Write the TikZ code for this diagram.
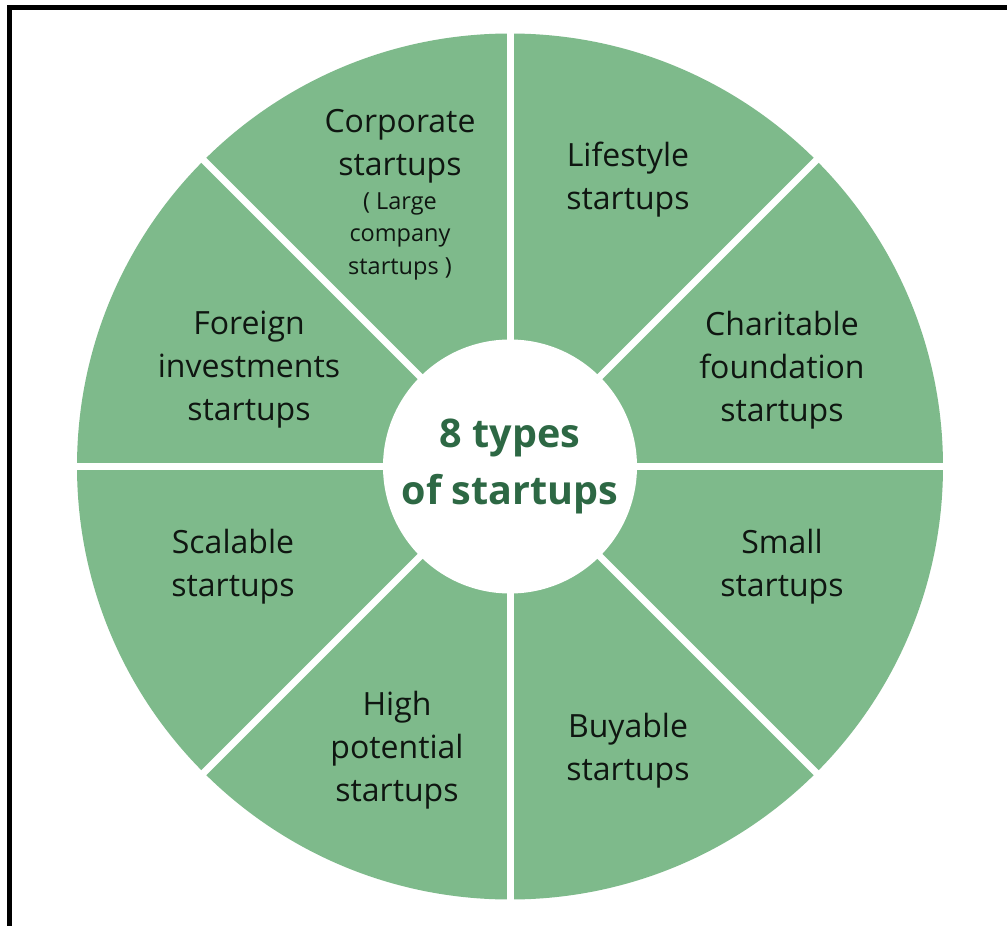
\documentclass[tikz,border=0pt]{standalone}
\usepackage{fontspec}
\setmainfont{Open Sans}
\definecolor{sectgreen}{RGB}{126,186,139}
\definecolor{darkgreen}{RGB}{45,104,68}
\definecolor{labeltext}{RGB}{15,22,17}
\begin{document}
\begin{tikzpicture}[x=1pt,y=-1pt,
  lbl/.style={align=center,text=labeltext,inner sep=0pt,font=\fontsize{32}{43}\selectfont},
  smalllbl/.style={align=center,text=labeltext,inner sep=0pt,font=\fontsize{23.5}{32.5}\selectfont},
  gapline/.style={white,line width=7pt},
  hub/.style={circle,fill=white,minimum size=254pt,inner sep=0pt,align=center,text=darkgreen,font=\bfseries\fontsize{39.5}{56.6}\selectfont}]
\useasboundingbox (0,0) rectangle (1007,926);
\fill[white] (0,0) rectangle (1007,926);
\coordinate (c) at (510,466.5);
\fill[sectgreen] (c) circle[radius=433];
\foreach \a in {0,45,...,315}{
  \draw[gapline] (c) -- ++(\a:445);
}
\fill[white] (0,0) rectangle (1007,30);
\node[hub] (hub) at (c) {8 types\\of startups};
% frame (top and left edges only)
\draw[black,line width=5pt] (9.5,926) -- (9.5,7.5) -- (1007,7.5);
% labels
\node[lbl] (corp) at (400,146) {Corporate\\startups};
\node[smalllbl] (corpsub) at (400,236) {( Large\\company\\startups )};
\node[lbl] (life) at (628,180) {Lifestyle\\startups};
\node[lbl] (char) at (782,370) {Charitable\\foundation\\startups};
\node[lbl] (foreign) at (249,370) {Foreign\\investments\\startups};
\node[lbl] (scal) at (233,567) {Scalable\\startups};
\node[lbl] (small) at (782,567) {Small\\startups};
\node[lbl] (high) at (397,750) {High\\potential\\startups};
\node[lbl] (buy) at (628,751) {Buyable\\startups};
\end{tikzpicture}
\end{document}
